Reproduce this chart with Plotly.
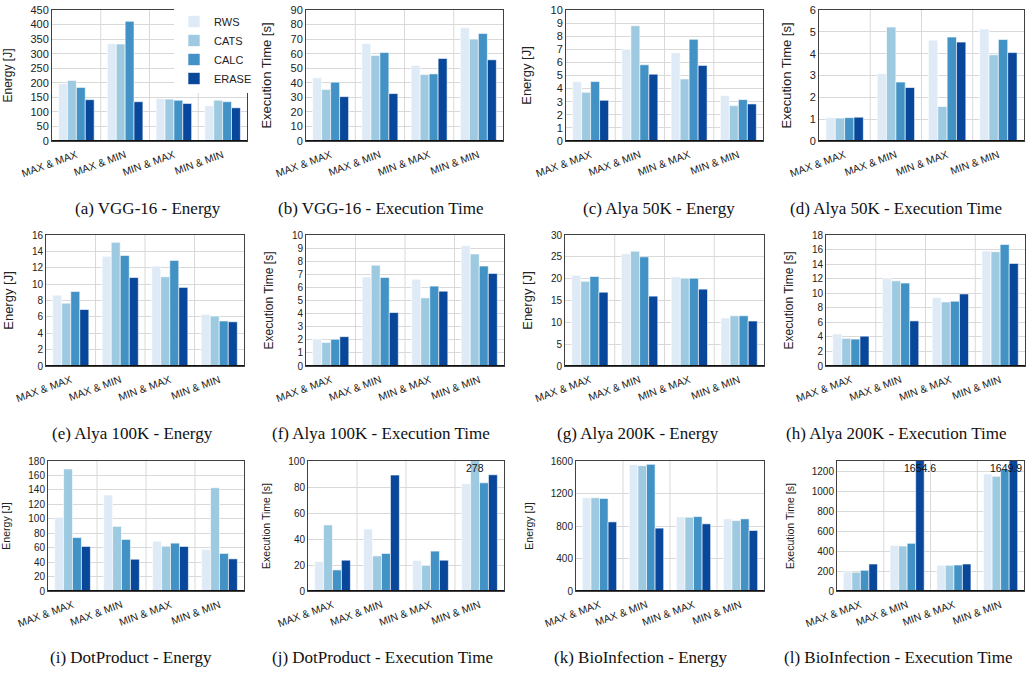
import plotly.graph_objects as go

categories = ["MAX & MAX", "MAX & MIN", "MIN & MAX", "MIN & MIN"]
series_names = ["RWS", "CATS", "CALC", "ERASE"]
colors = ["#deebf7", "#9ecae1", "#4292c6", "#08479a"]

# (a) VGG-16 - Energy
vgg_energy = {"RWS": [197, 334, 146, 121], "CATS": [208, 333, 144, 140],
              "CALC": [184, 411, 140, 135], "ERASE": [142, 135, 129, 114]}
# (b) VGG-16 - Execution Time
vgg_time = {"RWS": [43.4, 67.0, 51.9, 77.8], "CATS": [35.4, 58.8, 45.7, 70.0],
            "CALC": [40.4, 60.8, 46.1, 73.9], "ERASE": [30.5, 32.6, 56.7, 55.8]}
# (c) Alya 50K - Energy
alya50_energy = {"RWS": [4.54, 6.99, 6.73, 3.47], "CATS": [3.72, 8.80, 4.74, 2.70],
                 "CALC": [4.54, 5.82, 7.76, 3.16], "ERASE": [3.11, 5.10, 5.77, 2.83]}
# (d) Alya 50K - Execution Time
alya50_time = {"RWS": [1.07, 3.09, 4.62, 5.13], "CATS": [1.05, 5.22, 1.58, 3.95],
               "CALC": [1.07, 2.70, 4.76, 4.65], "ERASE": [1.09, 2.45, 4.53, 4.05]}
# (e) Alya 100K - Energy
alya100_energy = {"RWS": [8.65, 13.4, 12.2, 6.3], "CATS": [7.67, 15.1, 10.9, 6.1],
                  "CALC": [9.1, 13.5, 12.9, 5.5], "ERASE": [6.9, 10.8, 9.6, 5.4]}
# (f) Alya 100K - Execution Time
alya100_time = {"RWS": [2.04, 6.8, 6.63, 9.18], "CATS": [1.8, 7.7, 5.2, 8.55],
                "CALC": [2.04, 6.76, 6.1, 7.63], "ERASE": [2.24, 4.08, 5.71, 7.07]}
# (g) Alya 200K - Energy
alya200_energy = {"RWS": [20.8, 25.7, 20.4, 11.0], "CATS": [19.4, 26.3, 20.1, 11.5],
                  "CALC": [20.5, 25.0, 20.1, 11.5], "ERASE": [16.9, 16.0, 17.6, 10.3]}
# (h) Alya 200K - Execution Time
alya200_time = {"RWS": [4.4, 12.0, 9.4, 15.8], "CATS": [3.8, 11.7, 8.8, 15.7],
                "CALC": [3.7, 11.4, 8.9, 16.7], "ERASE": [4.1, 6.2, 9.9, 14.1]}
# (i) DotProduct - Energy
dot_energy = {"RWS": [102, 133, 69, 57.5], "CATS": [169, 89.5, 62, 143],
              "CALC": [74, 71.4, 66.3, 52], "ERASE": [61.7, 44, 61.7, 44.5]}
# (j) DotProduct - Execution Time
dot_time = {"RWS": [22.7, 47.7, 23.5, 82.5], "CATS": [50.8, 27.0, 19.6, 278],
            "CALC": [16.2, 28.9, 30.7, 83.2], "ERASE": [23.7, 89.2, 23.7, 89.4]}
# (k) BioInfection - Energy
bio_energy = {"RWS": [1148, 1555, 912, 888], "CATS": [1148, 1543, 908, 867],
              "CALC": [1140, 1559, 916, 888], "ERASE": [851, 774, 827, 745]}
# (l) BioInfection - Execution Time
bio_time = {"RWS": [193, 457, 257, 1170], "CATS": [187, 450, 257, 1147],
            "CALC": [207, 477, 260, 1217], "ERASE": [270, 1654.6, 270, 1649.9]}

E = "Energy [J]"
T = "Execution Time [s]"
panels = [
    ("(a) VGG-16 - Energy", vgg_energy, E, 450, 50),
    ("(b) VGG-16 - Execution Time", vgg_time, T, 90, 10),
    ("(c) Alya 50K - Energy", alya50_energy, E, 10, 1),
    ("(d) Alya 50K - Execution Time", alya50_time, T, 6, 1),
    ("(e) Alya 100K - Energy", alya100_energy, E, 16, 2),
    ("(f) Alya 100K - Execution Time", alya100_time, T, 10, 1),
    ("(g) Alya 200K - Energy", alya200_energy, E, 30, 5),
    ("(h) Alya 200K - Execution Time", alya200_time, T, 18, 2),
    ("(i) DotProduct - Energy", dot_energy, E, 180, 20),
    ("(j) DotProduct - Execution Time", dot_time, T, 100, 20),
    ("(k) BioInfection - Energy", bio_energy, E, 1600, 400),
    ("(l) BioInfection - Execution Time", bio_time, T, 1300, 200),
]

W, H = 1028, 673
# plot-area pixel boxes (left, right, top, bottom)
xboxes = [(52, 247), (306, 503), (566, 763), (819, 1024),
          (46, 244), (306, 504), (565, 764), (826, 1025),
          (48, 244), (308, 504), (576, 764), (837, 1024)]
yboxes = [(10, 141)] * 4 + [(235, 366)] * 4 + [(461, 591)] * 4
caption_x = [148, 381, 659, 896, 132, 381, 638, 896, 131, 382, 640, 898]
caption_y = [208, 433, 657]
title_sizes = [12, 13, 13, 13, 13, 12, 13, 12, 10.5, 10.5, 10.5, 10.5]
tick_sizes = [11, 11, 11, 11, 10, 10, 10, 10, 10, 10, 10, 10]

FONT = "Liberation Sans, Arial, sans-serif"
CAP_FONT = "Liberation Serif, serif"
bargap = 0.27
fig = go.Figure()
annotations = []
shapes = []
layout_axes = {}

for k, (title, data, ylab, ymax, dtick) in enumerate(panels):
    n = k + 1
    xa = "x" if n == 1 else f"x{n}"
    ya = "y" if n == 1 else f"y{n}"
    l, r = xboxes[k]
    t, b = yboxes[k]
    for i, s in enumerate(series_names):
        fig.add_trace(go.Bar(
            x=list(range(len(categories))), y=data[s], name=s,
            marker=dict(color=colors[i], line=dict(color="white", width=0.6)),
            xaxis=xa, yaxis=ya, showlegend=(k == 0),
        ))
        # values beyond the axis range get a text label at the top
        w = (1 - bargap) / len(series_names)
        off = -(1 - bargap) / 2 + (i + 0.5) * w
        for c, v in enumerate(data[s]):
            if v > ymax:
                txt = f"{v:g}"
                cx = l + (c + off + 0.5) / 4 * (r - l)
                half = len(txt) * 5.6 / 2
                shift = min(0, (W - 5) - (cx + half))
                annotations.append(dict(
                    x=c + off, y=ymax, xref=xa, yref=ya, text=txt,
                    showarrow=False, yanchor="top", xanchor="center",
                    xshift=shift, yshift=1,
                    font=dict(family=FONT, size=10.5, color="#111")))
    xd = [l / W, r / W]
    yd = [1 - b / H, 1 - t / H]
    layout_axes["xaxis" if n == 1 else f"xaxis{n}"] = dict(
        domain=xd, anchor=ya, range=[-0.5, 3.5], tickmode="array",
        tickvals=list(range(len(categories))), ticktext=categories,
        tickangle=-20, showgrid=False, zeroline=False, automargin=False,
        showline=True, mirror=True, linecolor="#404040", linewidth=1,
        ticks="outside", ticklen=3, tickcolor="rgba(0,0,0,0)",
        tickfont=dict(family=FONT, size=10.5, color="#222"))
    layout_axes["yaxis" if n == 1 else f"yaxis{n}"] = dict(
        domain=yd, anchor=xa, range=[0, ymax], dtick=dtick, tick0=0,
        showgrid=True, gridcolor="#d9d9d9", gridwidth=1, automargin=False,
        zeroline=False,
        showline=True, mirror=True, linecolor="#404040", linewidth=1,
        ticks="", tickfont=dict(family=FONT, size=tick_sizes[k], color="#222"),
        title=dict(text=ylab, font=dict(family=FONT, size=title_sizes[k], color="#222")))
    for sep in [0.5, 1.5, 2.5]:
        shapes.append(dict(type="line", xref=xa, yref=f"{ya} domain",
                           x0=sep, x1=sep, y0=0, y1=1, layer="below",
                           line=dict(color="#d9d9d9", width=1)))
    # dark baseline drawn above the bars
    shapes.append(dict(type="line", xref=f"{xa} domain", yref=ya,
                       x0=0, x1=1, y0=0, y1=0, layer="above",
                       line=dict(color="#111", width=2)))
    annotations.append(dict(
        x=caption_x[k] / W, y=1 - caption_y[k // 4] / H, xref="paper", yref="paper",
        text=title, showarrow=False, xanchor="center", yanchor="middle",
        font=dict(family=CAP_FONT, size=17, color="#111")))

fig.update_layout(
    width=W, height=H, margin=dict(l=0, r=0, t=0, b=0, autoexpand=False),
    paper_bgcolor="white", plot_bgcolor="white",
    barmode="group", bargap=bargap, bargroupgap=0,
    annotations=annotations, shapes=shapes,
    legend=dict(x=174 / W, y=1 - 7 / H, xanchor="left", yanchor="top",
                bgcolor="white", borderwidth=0,
                font=dict(family=FONT, size=11, color="#222"),
                tracegroupgap=0, itemwidth=30),
    **layout_axes,
)
fig.write_html("out.html", config={"displayModeBar": False},
               post_script="document.body.style.margin='0';document.body.style.overflow='hidden';")
